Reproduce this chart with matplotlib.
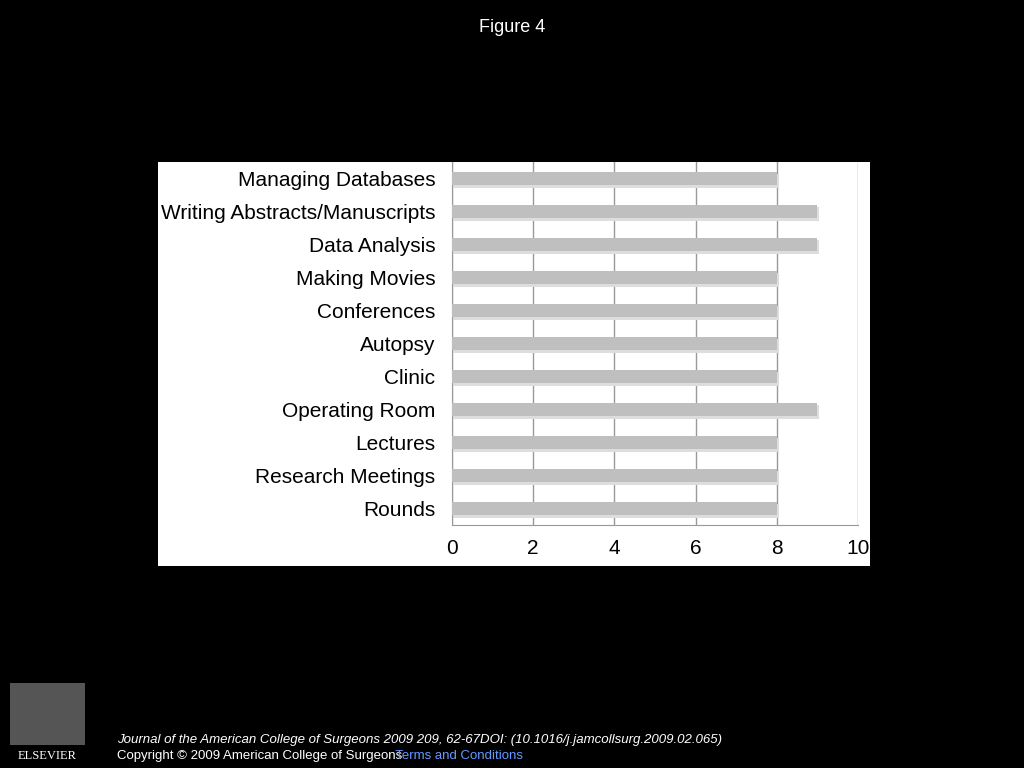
import matplotlib
matplotlib.use("Agg")
import matplotlib.pyplot as plt
from matplotlib.patches import Rectangle

categories = ["Managing Databases", "Writing Abstracts/Manuscripts", "Data Analysis",
              "Making Movies", "Conferences", "Autopsy", "Clinic", "Operating Room",
              "Lectures", "Research Meetings", "Rounds"]
values = [8, 9, 9, 8, 8, 8, 8, 9, 8, 8, 8]
ticks = [0, 2, 4, 6, 8, 10]

fig = plt.figure(figsize=(10.24, 7.68), dpi=100, facecolor="black")
W, H = 1024, 768
fig.patches.append(Rectangle((158/W, 1-566/H), (870-158)/W, (566-162)/H,
                             transform=fig.transFigure, facecolor="white", edgecolor="none", zorder=-5))
ax = fig.add_axes([452/W, 1-525/H, (858-452)/W, (525-162)/H])
ax.set_zorder(5)
ax.set_facecolor("white")
y = list(range(len(categories)))[::-1]
ax.barh([v - 0.08 for v in y], [v + 0.05 for v in values], height=0.42, color="#dddddd", zorder=2)
ax.barh(y, values, height=0.42, color="#bfbfbf", zorder=3)
ax.set_xlim(0, 10)
ax.set_ylim(-0.5, len(categories) - 0.5)
ax.set_yticks(y)
ax.set_yticklabels(categories, fontsize=15, family="Liberation Sans")
ax.set_xticks(ticks)
ax.set_xticklabels([str(t) for t in ticks], fontsize=15, family="Liberation Sans")
ax.tick_params(axis="y", length=0, pad=12)
ax.tick_params(axis="x", length=0, pad=10)
ax.grid(axis="x", color="#999999", linewidth=1, zorder=1)
for s in ["top", "right"]:
    ax.spines[s].set_visible(False)
ax.spines["left"].set_color("#999999")
ax.spines["bottom"].set_color("#999999")

ff = "Liberation Sans"
fig.text(0.5, 1-27/H, "Figure 4", color="white", ha="center", va="center", fontsize=13, family=ff)
fig.text(117/W, 1-740/H, "Journal of the American College of Surgeons 2009 209, 62-67DOI: (10.1016/j.jamcollsurg.2009.02.065)",
         color="white", fontsize=9.5, style="italic", va="center", family=ff)
fig.text(117/W, 1-756/H, "Copyright © 2009 American College of Surgeons", color="white", fontsize=9.5, va="center", family=ff)
fig.text(392/W, 1-756/H, " Terms and Conditions", color="#6699ff", fontsize=9.5, va="center", family=ff)
fig.patches.append(Rectangle((10/W, 1-745/H), 75/W, 62/H, transform=fig.transFigure,
                             facecolor="#555555", edgecolor="none"))
fig.text(47/W, 1-756/H, "ELSEVIER", color="white", fontsize=9, ha="center", va="center", family="Liberation Serif")
fig.savefig("out.png", dpi=100, facecolor="black")
